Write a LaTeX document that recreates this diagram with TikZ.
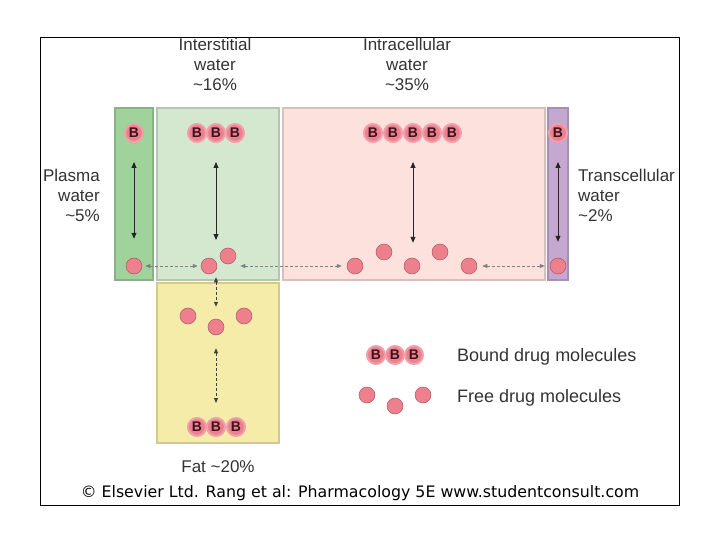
\documentclass[tikz,border=0pt]{standalone}
\usepackage{fontspec}
\setmainfont{Liberation Sans}
\newfontfamily\notefont{DejaVu Sans}
\usepackage{xcolor}
\usetikzlibrary{arrows.meta,positioning}

\definecolor{plasmagreen}{RGB}{160,210,155}
\definecolor{intergreen}{RGB}{212,232,208}
\definecolor{intrapink}{RGB}{253,225,220}
\definecolor{transpurple}{RGB}{196,168,208}
\definecolor{fatyellow}{RGB}{246,236,170}
\definecolor{molpink}{RGB}{238,128,142}
\definecolor{molhalo}{RGB}{240,160,170}
\definecolor{bdark}{RGB}{55,20,30}

\begin{document}
\begin{tikzpicture}[
  x=1pt, y=-1pt,
  font=\fontsize{17}{20}\selectfont,
  region/.style={
    draw=#1!85!black,
    fill=#1,
    line width=1.2pt,
    inner sep=0pt
  },
  label/.style={
    align=center,
    text=black!80,
    inner sep=0pt
  },
  keytext/.style={
    label,
    anchor=west,
    font=\fontsize{18}{20}\selectfont
  },
  bnd/.style={
    circle,
    fill=molpink,
    draw=molhalo,
    line width=2pt,
    minimum size=18pt,
    inner sep=0pt,
    text=bdark,
    font=\fontsize{14}{14}\selectfont\bfseries
  },
  free/.style={
    circle,
    fill=molpink,
    draw=molpink!70!black,
    line width=0.5pt,
    minimum size=16pt,
    inner sep=0pt
  },
  both/.style={{Triangle[length=6pt,width=5pt]}-{Triangle[length=6pt,width=5pt]}, line width=0.9pt, draw=black!85},
  trade/.style={{Triangle[length=5pt,width=4pt]}-{Triangle[length=5pt,width=4pt]}, line width=0.9pt, dash pattern=on 3pt off 2pt, draw=black!50}
]
\useasboundingbox (0,0) rectangle (720,540);

\node[draw, line width=0.8pt, minimum width=639pt, minimum height=468pt, inner sep=0pt] (frame) at (359.5,271) {};

\node[region=plasmagreen, minimum width=38pt, minimum height=172pt] (plasma) at (134,194) {};
\node[region=intergreen, minimum width=122pt, minimum height=172pt] (inter) at (218,194) {};
\node[region=intrapink, minimum width=262pt, minimum height=172pt] (intra) at (414,194) {};
\node[region=transpurple, minimum width=20pt, minimum height=172pt] (trans) at (558,194) {};
\node[region=fatyellow, minimum width=122pt, minimum height=160pt] (fat) at (218,363) {};

\node[label] (interlab) at (215,64) {Interstitial\\water\\\textasciitilde16\%};
\node[label] (intralab) at (407,64) {Intracellular\\water\\\textasciitilde35\%};
\node[label, align=right, anchor=east] (plasmalab) at (100,195) {Plasma\\water\\\textasciitilde5\%};
\node[label, align=left, anchor=west] (translab) at (578,195) {Transcellular\\water\\\textasciitilde2\%};
\node[label] (fatlab) at (218,467) {Fat \textasciitilde20\%};

% plasma
\node[bnd] (pB) at (134,133) {B};
\node[free] (pF) at (134,266) {};
\draw[both, shorten <=19pt, shorten >=19pt] (pB) -- (pF);

% interstitial
\node[bnd] (iB1) at (197,133) {B};
\node[bnd] (iB2) at (216,133) {B};
\node[bnd] (iB3) at (235,133) {B};
\node[free] (iF1) at (209,266) {};
\node[free] (iF2) at (228,256) {};
\draw[both, shorten <=19pt, shorten >=26pt] (iB2) -- (iB2 |- iF1);

% intracellular
\foreach \i/\x in {1/373,2/393,3/413,4/432,5/452}
  \node[bnd] (cB\i) at (\x,133) {B};
\node[free] (cF1) at (355,266) {};
\node[free] (cF2) at (384,252) {};
\node[free] (cF3) at (412,266) {};
\node[free] (cF4) at (440,252) {};
\node[free] (cF5) at (469,266) {};
\draw[both, shorten <=19pt, shorten >=15pt] (cB3) -- (cB3 |- cF3.north);

% transcellular
\node[bnd] (tB) at (558,133) {B};
\node[free] (tF) at (558,266) {};
\draw[both, shorten <=19pt, shorten >=16pt] (tB) -- (tF);

% fat
\node[free] (fF1) at (188,316) {};
\node[free] (fF2) at (216,327) {};
\node[free] (fF3) at (244,316) {};
\node[bnd] (fB1) at (197,427) {B};
\node[bnd] (fB2) at (216,427) {B};
\node[bnd] (fB3) at (236,427) {B};

% exchange between compartments
\draw[trade, shorten <=3pt, shorten >=3pt] (pF) -- (iF1);
\draw[trade, shorten <=4pt, shorten >=5pt] (iF2.east |- iF1) -- (cF1);
\draw[trade, shorten <=5pt, shorten >=5pt] (cF5) -- (tF);
\draw[trade, draw=black!75, shorten <=3pt, shorten >=12pt] (iB2 |- iF1.south) -- (fF2);
\draw[trade, draw=black!75, shorten <=13pt, shorten >=14pt] (fF2) -- (fB2);

% key
\node[bnd] (kB1) at (376,355) {B};
\node[bnd] (kB2) at (395,355) {B};
\node[bnd] (kB3) at (414,355) {B};
\node[free] (kF1) at (367,395) {};
\node[free] (kF2) at (395,406) {};
\node[free] (kF3) at (423,395) {};
\node[keytext] (kBlab) at (457,357) {Bound drug molecules};
\node[keytext] (kFlab) at (457,398) {Free drug molecules};

\node[inner sep=0pt, font=\notefont\fontsize{15.8}{18}\selectfont] (credit) at (360,493)
  {\textcopyright{} Elsevier Ltd. Rang et al: Pharmacology 5E www.studentconsult.com};

\end{tikzpicture}
\end{document}
